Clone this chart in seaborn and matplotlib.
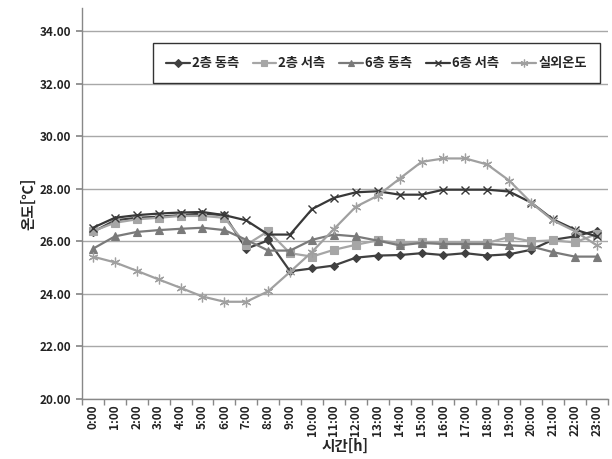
import matplotlib
matplotlib.use("Agg")
import matplotlib.pyplot as plt
import seaborn as sns
import numpy as np
import pandas as pd

hours = [f"{h}:00" for h in range(24)]
floor2_east = [26.36, 26.80, 26.90, 26.94, 27.00, 27.06, 27.00, 25.72, 26.04, 24.86, 24.97, 25.08,
               25.38, 25.46, 25.48, 25.55, 25.48, 25.55, 25.46, 25.51, 25.68, 26.06, 26.19, 26.41]
floor2_west = [26.39, 26.71, 26.84, 26.90, 26.97, 26.97, 26.90, 25.87, 26.39, 25.55, 25.42, 25.68,
               25.87, 26.04, 25.94, 25.97, 25.97, 25.94, 25.94, 26.17, 26.00, 26.04, 25.96, 26.28]
floor6_east = [25.72, 26.19, 26.36, 26.43, 26.48, 26.52, 26.43, 26.06, 25.65, 25.65, 26.06, 26.26,
               26.19, 26.03, 25.85, 25.94, 25.90, 25.90, 25.90, 25.85, 25.81, 25.59, 25.42, 25.42]
floor6_west = [26.52, 26.90, 27.00, 27.06, 27.10, 27.12, 27.00, 26.80, 26.26, 26.26, 27.23, 27.66,
               27.87, 27.91, 27.78, 27.78, 27.97, 27.97, 27.97, 27.90, 27.48, 26.84, 26.45, 26.19]
outdoor = [25.42, 25.20, 24.88, 24.55, 24.23, 23.90, 23.70, 23.70, 24.10, 24.84, 25.60, 26.47,
           27.32, 27.74, 28.39, 29.03, 29.16, 29.16, 28.93, 28.32, 27.48, 26.80, 26.39, 25.85]
series_names = ["2층 동측", "2층 서측", "6층 동측", "6층 서측", "실외온도"]
y_ticks = [20, 22, 24, 26, 28, 30, 32, 34]

sns.set_theme(style="white")
plt.rcParams['font.family'] = ['Noto Sans CJK KR', 'DejaVu Sans']

fig = plt.figure(figsize=(6.12, 4.59), dpi=100)
ax = fig.add_axes([0.134, 0.131, 0.859, 0.852])

x = np.arange(len(hours))
styles = [
    dict(color="#404040", marker="D", markersize=4.5, mec="#404040", mew=0.8),
    dict(color="#a6a6a6", marker="s", markersize=6, mec="#a6a6a6", mew=0.8),
    dict(color="#7a7a7a", marker="^", markersize=6, mec="#7a7a7a", mew=0.8),
    dict(color="#383838", marker="x", markersize=6, mec="#383838", mew=1.0),
    dict(color="#a0a0a0", marker=(6, 2, 0), markersize=7, mec="#a0a0a0", mew=0.9),
]
data = [floor2_east, floor2_west, floor6_east, floor6_west, outdoor]
for name, vals, st in zip(series_names, data, styles):
    df = pd.DataFrame({"x": x, "y": vals})
    sns.lineplot(data=df, x="x", y="y", ax=ax, label=name, linewidth=1.6, **st)

ax.set_xlim(-0.5, 23.5)
ax.set_ylim(20, 34.9)
ax.set_yticks(y_ticks)
ax.set_yticklabels([f"{v:.2f}" for v in y_ticks], fontsize=8.5, fontweight="bold", color="#222222")
ax.set_xticks(x)
ax.set_xticklabels(hours, rotation=90, fontsize=8.5, fontweight="bold", color="#222222")
ax.set_xticks(np.arange(-0.5, 24, 1), minor=True)
ax.tick_params(axis="x", which="major", length=0, pad=4)
ax.tick_params(axis="x", which="minor", length=4, color="#888888", direction="out", bottom=True)
ax.tick_params(axis="y", which="major", length=4, color="#888888", direction="out", left=True)

ax.grid(axis="y", color="#a8a8a8", linewidth=1.0)
ax.set_axisbelow(True)
for s in ["top", "right"]:
    ax.spines[s].set_visible(False)
for s in ["left", "bottom"]:
    ax.spines[s].set_color("#888888")
    ax.spines[s].set_linewidth(1.0)

ax.set_xlabel("시간[h]", fontsize=10.5, fontweight="bold", labelpad=1)
ax.set_ylabel("온도[℃]", fontsize=10.5, fontweight="bold", labelpad=3)

leg = ax.legend(loc="upper right", bbox_to_anchor=(0.985, 0.91), ncol=5, frameon=True,
                fancybox=False, edgecolor="black", prop={"weight": "bold", "size": 9.5},
                handlelength=1.8, handletextpad=0.15, columnspacing=1.05, borderpad=1.0,
                borderaxespad=0.0, markerscale=0.8)
leg.get_frame().set_linewidth(1.0)

fig.savefig("out.png", dpi=100)
